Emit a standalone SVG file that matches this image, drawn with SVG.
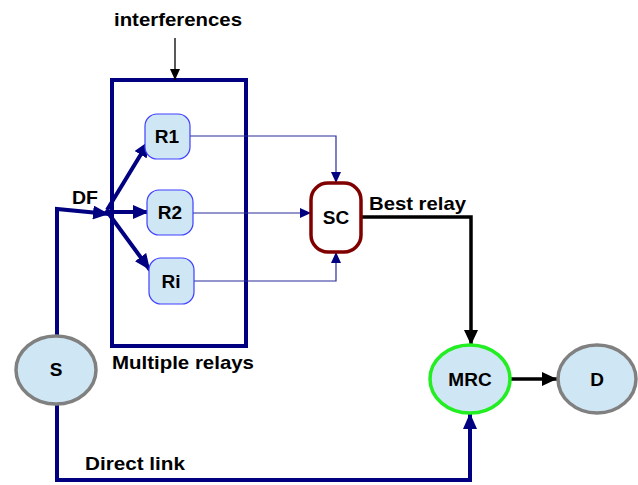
<svg xmlns="http://www.w3.org/2000/svg" width="638" height="485" viewBox="0 0 638 485">
<defs>
<style>
text{font-family:"Liberation Sans",Arial,sans-serif;font-weight:bold;font-size:19px;fill:#000}
.lbl{text-anchor:middle}
.rnode{fill:#cfe6f4;stroke:#4040ff;stroke-width:1.2}
.ell{fill:#cfe6f4;stroke:#808080;stroke-width:3.5}
.thick{fill:none;stroke:#000080;stroke-width:4;stroke-linejoin:miter}
.thin{fill:none;stroke:#2a2a9c;stroke-width:1.2}
.blk{fill:none;stroke:#000;stroke-width:3.5;stroke-linejoin:miter}
</style>
<marker id="aNavy" markerUnits="userSpaceOnUse" markerWidth="18" markerHeight="14" refX="16" refY="7" orient="auto"><path d="M0,0 L16,7 L0,14 z" fill="#000080"/></marker>
<marker id="aThin" markerUnits="userSpaceOnUse" markerWidth="12" markerHeight="10" refX="11" refY="5" orient="auto"><path d="M0,0 L11,5 L0,10 z" fill="#000080"/></marker>
<marker id="aBlk" markerUnits="userSpaceOnUse" markerWidth="16" markerHeight="14" refX="15" refY="7" orient="auto"><path d="M0,0 L15,7 L0,14 z" fill="#000"/></marker>
<marker id="aInt" markerUnits="userSpaceOnUse" markerWidth="12" markerHeight="12" refX="11" refY="5" orient="auto"><path d="M0,0 L11,5 L0,10 z" fill="#000"/></marker>
</defs>

<g id="relay-box">
<rect x="112" y="80" width="134" height="266" fill="none" stroke="#000080" stroke-width="4"/>
<text x="112" y="369" textLength="142" lengthAdjust="spacingAndGlyphs">Multiple relays</text>
</g>
<g id="interferences">
<text x="178" y="26" class="lbl" textLength="128" lengthAdjust="spacingAndGlyphs">interferences</text>
</g>

<g id="connectors">
<line x1="175" y1="38" x2="175" y2="80" stroke="#000" stroke-width="1.3" marker-end="url(#aInt)"/>
<polyline class="thick" points="57,336 57,209 109,214" marker-end="url(#aNavy)"/>
<line class="thick" x1="107" y1="210" x2="149" y2="141" marker-end="url(#aNavy)"/>
<line class="thick" x1="107" y1="212" x2="149" y2="212" marker-end="url(#aNavy)"/>
<line class="thick" x1="106" y1="210" x2="150" y2="270" marker-end="url(#aNavy)"/>
<polyline class="thin" points="190,136 336,136 336,183" marker-end="url(#aThin)"/>
<line class="thin" x1="193" y1="213" x2="311" y2="213" marker-end="url(#aThin)"/>
<polyline class="thin" points="194,281 336,281 336,252" marker-end="url(#aThin)"/>
<polyline class="blk" points="361,217 471,217 471,345" marker-end="url(#aBlk)"/>
<line class="blk" x1="511" y1="379" x2="557" y2="379" marker-end="url(#aBlk)"/>
<polyline class="thick" points="57,404 57,480 470,480 470,413" marker-end="url(#aNavy)"/>
<text x="72" y="204" textLength="26" lengthAdjust="spacingAndGlyphs">DF</text>
<text x="369" y="210" textLength="97" lengthAdjust="spacingAndGlyphs">Best relay</text>
<text x="85" y="470" textLength="100" lengthAdjust="spacingAndGlyphs">Direct link</text>
</g>

<g id="R1">
<rect class="rnode" x="145" y="114" width="45" height="45" rx="12"/>
<text class="lbl" x="167" y="143">R1</text>
</g>
<g id="R2">
<rect class="rnode" x="147" y="190" width="46" height="45" rx="12"/>
<text class="lbl" x="170" y="219">R2</text>
</g>
<g id="Ri">
<rect class="rnode" x="149" y="258" width="45" height="46" rx="12"/>
<text class="lbl" x="171" y="288">Ri</text>
</g>
<g id="SC">
<rect x="311" y="183" width="50" height="69" rx="17" fill="#fff" stroke="#800000" stroke-width="3.5"/>
<text class="lbl" x="336" y="224">SC</text>
</g>
<g id="S">
<ellipse class="ell" cx="56" cy="370" rx="40" ry="34"/>
<text class="lbl" x="56" y="376">S</text>
</g>
<g id="MRC">
<ellipse cx="470" cy="379" rx="40" ry="34" fill="#cfe6f4" stroke="#22ee22" stroke-width="3.5"/>
<text class="lbl" x="470" y="386">MRC</text>
</g>
<g id="D">
<ellipse class="ell" cx="597" cy="379" rx="39" ry="34"/>
<text class="lbl" x="597" y="386">D</text>
</g>
</svg>
